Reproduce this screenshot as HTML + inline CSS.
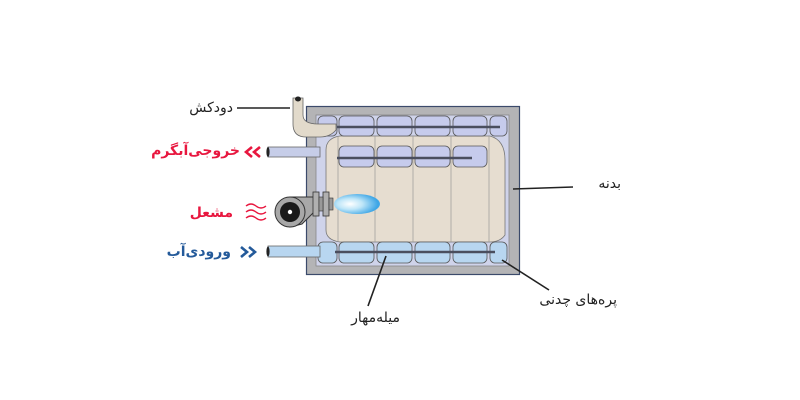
<!DOCTYPE html>
<html lang="fa"><head><meta charset="utf-8"><style>
html,body{margin:0;padding:0;background:#fff;width:800px;height:400px;overflow:hidden;position:relative}
svg{display:block;position:absolute;left:0;top:0}
.l{position:absolute;direction:rtl;unicode-bidi:embed;text-align:right;font-family:"DejaVu Sans","Liberation Sans",sans-serif;font-size:14px;line-height:16px;white-space:nowrap}
.b{font-weight:bold}
</style></head><body>
<svg width="800" height="400" viewBox="0 0 800 400">
<defs>
<radialGradient id="fl" cx="0.35" cy="0.5" r="0.6">
<stop offset="0" stop-color="#ffffff"/><stop offset="0.45" stop-color="#bfe6f8"/><stop offset="1" stop-color="#3ea6e6"/>
</radialGradient>
</defs>
<rect x="306.5" y="106.5" width="213" height="168" fill="#b4b4b6" stroke="#3b4a6b" stroke-width="1.2"/>
<rect x="316" y="115" width="193" height="151" fill="#cfd3ea" stroke="#888" stroke-width="0.8"/>
<path d="M326 150 Q326 138 340 136 L490 136 Q505 140 505 160 L505 235 Q500 242 490 242 L340 242 Q326 240 326 230 Z" fill="#e6ddd0" stroke="#777" stroke-width="0.8"/>
<g stroke="#999" stroke-width="0.7">
<line x1="338" y1="136" x2="338" y2="242"/><line x1="375" y1="136" x2="375" y2="242"/>
<line x1="413" y1="136" x2="413" y2="242"/><line x1="451" y1="136" x2="451" y2="242"/>
<line x1="489" y1="136" x2="489" y2="242"/>
</g>
<g fill="#c6cbec" stroke="#555" stroke-width="0.8">
<rect x="318" y="116" width="19" height="20" rx="5"/>
<rect x="339" y="116" width="35" height="20" rx="5"/><rect x="377" y="116" width="35" height="20" rx="5"/>
<rect x="415" y="116" width="35" height="20" rx="5"/><rect x="453" y="116" width="34" height="20" rx="5"/>
<rect x="490" y="116" width="17" height="20" rx="5"/>
<rect x="339" y="146" width="35" height="21" rx="5"/><rect x="377" y="146" width="35" height="21" rx="5"/>
<rect x="415" y="146" width="35" height="21" rx="5"/><rect x="453" y="146" width="34" height="21" rx="5"/>
</g>
<g fill="#b8d6f0" stroke="#555" stroke-width="0.8">
<rect x="318" y="242" width="19" height="21" rx="5"/>
<rect x="339" y="242" width="35" height="21" rx="5"/><rect x="377" y="242" width="35" height="21" rx="5"/>
<rect x="415" y="242" width="35" height="21" rx="5"/><rect x="453" y="242" width="34" height="21" rx="5"/>
<rect x="490" y="242" width="17" height="21" rx="5"/>
</g>
<g stroke="#4a4e5e" stroke-width="2.5">
<line x1="337" y1="127" x2="500" y2="127"/>
<line x1="337" y1="158" x2="472" y2="158"/>
<line x1="335" y1="252" x2="495" y2="252"/>
</g>
<path d="M293 98 L293 124 Q293 137 306 137 L320 137 Q330 137 336 130 L336 124 L318 124 Q303 124 303 115 L303 98 Z" fill="#e2dacb" stroke="#666" stroke-width="0.8"/>
<ellipse cx="298" cy="99" rx="3" ry="2.5" fill="#222"/>
<rect x="268" y="147" width="52" height="10" fill="#c6cde8" stroke="#666" stroke-width="0.8"/>
<rect x="268" y="246" width="52" height="11" fill="#b8d6f0" stroke="#666" stroke-width="0.8"/>
<ellipse cx="268" cy="152" rx="1.6" ry="5" fill="#222"/>
<ellipse cx="268" cy="251.5" rx="1.6" ry="5" fill="#222"/>
<path d="M290 197 L315 197 L315 211 L302 224 L290 227 Z" fill="#a8a8a8" stroke="#333" stroke-width="1"/>
<circle cx="290" cy="212" r="15" fill="#a8a8a8" stroke="#333" stroke-width="1"/>
<circle cx="290" cy="212" r="10" fill="#1a1a1a"/>
<circle cx="290" cy="212" r="2.2" fill="#fff"/>
<rect x="313" y="192" width="6" height="24" fill="#b0b0b0" stroke="#333" stroke-width="0.8"/>
<rect x="323" y="192" width="6" height="24" fill="#b0b0b0" stroke="#333" stroke-width="0.8"/>
<rect x="319" y="197" width="4" height="14" fill="#999" stroke="#333" stroke-width="0.6"/>
<rect x="329" y="198" width="4" height="12" fill="#999" stroke="#333" stroke-width="0.6"/>
<ellipse cx="357" cy="204" rx="23" ry="10" fill="url(#fl)"/>
<g stroke="#222" stroke-width="1.6">
<line x1="237" y1="108" x2="290" y2="108"/>
<line x1="513" y1="189" x2="573" y2="187"/>
<line x1="502" y1="260" x2="549" y2="290"/>
<line x1="386" y1="256" x2="368" y2="306"/>
</g>
<g fill="none" stroke-width="2.6">
<path d="M252 147 L246 152 L252 157 M260 147 L254 152 L260 157" stroke="#e8173f"/>
<path d="M241 247 L247 252 L241 257 M249 247 L255 252 L249 257" stroke="#245a9a"/>
</g>
<g fill="none" stroke="#e8173f" stroke-width="1.4">
<path d="M246 206 q5 -4 10 0 t10 0"/><path d="M246 212 q5 -4 10 0 t10 0"/><path d="M246 218 q5 -4 10 0 t10 0"/>
</g>
</svg>
<div class="l" style="right:567px;top:100px;color:#222">دودکش</div>
<div class="l b" style="right:560px;top:143px;color:#e8173f">خروجی‌آبگرم</div>
<div class="l b" style="right:567px;top:205px;color:#e8173f">مشعل</div>
<div class="l b" style="right:569px;top:244px;color:#245a9a">ورودی‌آب</div>
<div class="l" style="right:179px;top:176px;color:#222">بدنه</div>
<div class="l" style="right:183px;top:292px;color:#222">پره‌های چدنی</div>
<div class="l" style="right:400px;top:310px;color:#222">میله‌مهار</div>
</body></html>
